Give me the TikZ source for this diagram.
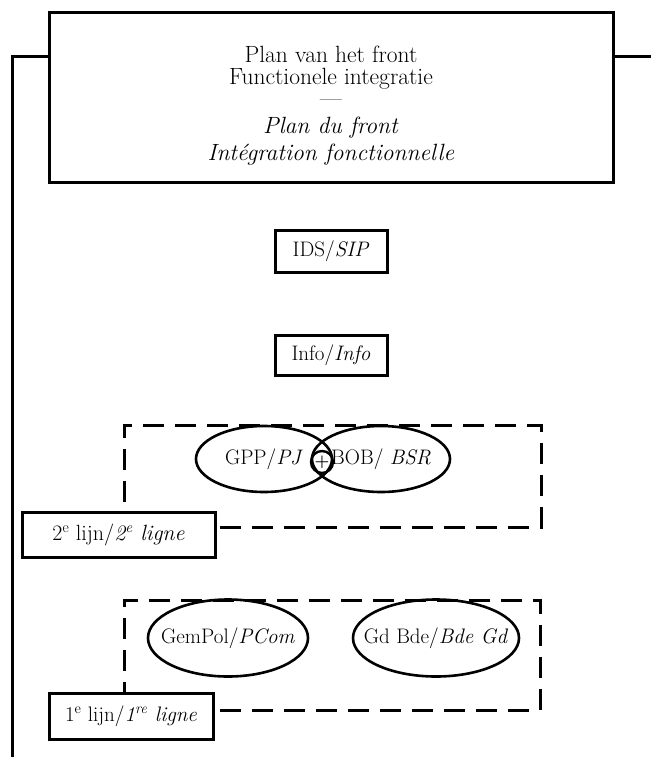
\documentclass[tikz,border=0pt]{standalone}
\usetikzlibrary{shapes.geometric}
\begin{document}
\begin{tikzpicture}[x=1pt,y=-1pt,
  every node/.style={font=\fontsize{21}{25}\selectfont},
  frame/.style={draw, line width=3pt, rectangle, inner sep=0pt, align=center, fill=white},
  oval/.style={draw, line width=2.6pt, ellipse, inner sep=-20pt},
  group/.style={draw, line width=3pt, dash pattern=on 21pt off 11pt, rectangle, inner sep=0pt},
  joint/.style={draw, circle, line width=2.4pt, minimum size=22pt, inner sep=0pt, font=\fontsize{17}{17}\selectfont\bfseries},
  wire/.style={line width=3pt}]
\useasboundingbox (0,0) rectangle (651,757);

% title frame and its text
\node[frame, minimum width=564pt, minimum height=169pt] (title) at (331,97.5) {};
\node[align=center, font=\fontsize{23.5}{22}\selectfont] (titletext) at (331,105.5)
  {Plan van het front\\Functionele integratie\\---\\[5pt]\textit{Plan du front}\\[5pt]\textit{Intégration fonctionnelle}};

% side lines leaving the title frame
\coordinate (top) at (12,57);
\coordinate (foot) at (12,757);
\coordinate (east) at (651,57);
\draw[wire] (foot) -- (top) -- (top -| title.west);
\draw[wire] (title.east |- top) -- (east);

% central boxes
\node[frame, minimum width=112pt, minimum height=42pt] (ids) at (331,251) {IDS/\textit{SIP}};
\node[frame, minimum width=112pt, minimum height=40pt] (info) at (331,355) {Info/\textit{Info}};

% second line group
\node[group, minimum width=417pt, minimum height=102pt] (grp2) at (332.5,476) {};
\node[oval, minimum width=136pt, minimum height=66pt] (gpp) at (264,459) {GPP/\textit{PJ}};
\node[oval, minimum width=138pt, minimum height=66pt] (bob) at (381,459) {BOB/ \textit{BSR}};
\node[joint] (plus) at (322,462) {+};
\node[frame, minimum width=193pt, minimum height=45pt, font=\fontsize{22}{25}\selectfont] (lbl2) at (118.5,534.5)
  {2\textsuperscript{e} lijn/\textit{2\textsuperscript{e} ligne}};

% first line group
\node[group, minimum width=416pt, minimum height=110pt] (grp1) at (332,655) {};
\node[oval, minimum width=160pt, minimum height=77pt] (gempol) at (228,638) {GemPol/\textit{PCom}};
\node[oval, minimum width=166pt, minimum height=77pt] (gdbde) at (436,638) {Gd Bde/\textit{Bde Gd}};
\node[frame, minimum width=164pt, minimum height=46pt] (lbl1) at (131,716)
  {1\textsuperscript{e} lijn/\textit{1\textsuperscript{re} ligne}};
\end{tikzpicture}
\end{document}
